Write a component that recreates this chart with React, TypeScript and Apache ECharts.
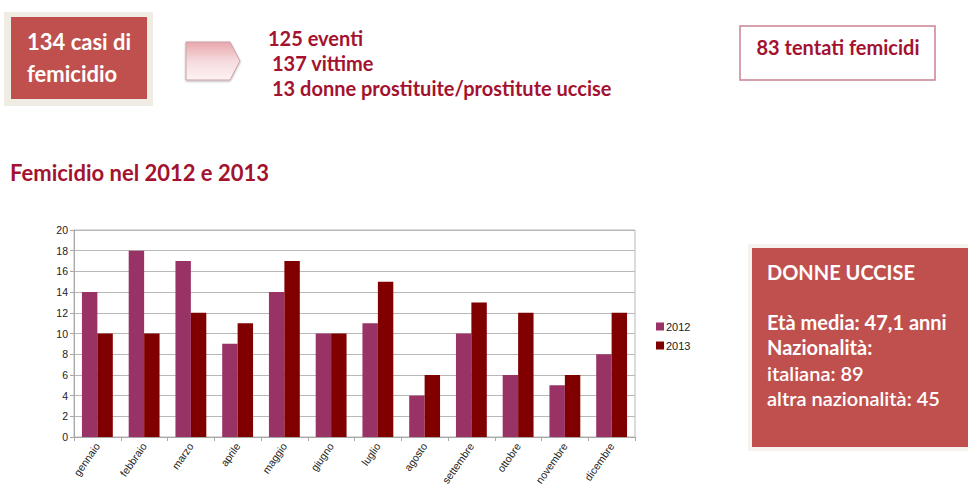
import React, { useEffect, useRef } from "react";
import * as echarts from "echarts";

const months = ["gennaio", "febbraio", "marzo", "aprile", "maggio", "giugno", "luglio", "agosto", "settembre", "ottobre", "novembre", "dicembre"];
const values2012 = [14, 18, 17, 9, 14, 10, 11, 4, 10, 6, 5, 8];
const values2013 = [10, 10, 12, 11, 17, 10, 15, 6, 13, 12, 6, 12];
const seriesNames = ["2012", "2013"];
const infoLines = ["125 eventi", "137 vittime", "13 donne prostituite/prostitute uccise"];
const boxLines = ["Età media: 47,1 anni", "Nazionalità:", "italiana: 89", "altra nazionalità: 45"];

const FONT = "Lato, 'Open Sans', sans-serif";
const AXFONT = "Arial, 'Liberation Sans', sans-serif";
const DARK_RED = "#a3122f";
const BOX_RED = "#c0504d";

export default function App() {
  const ref = useRef<HTMLDivElement>(null);
  useEffect(() => {
    document.body.style.margin = "0";
    const chart = echarts.init(ref.current!, null, { renderer: "svg" });
    const txt = (x: number, y: number, text: string, fill: string, size: number, weight = "bold", align = "left") => ({
      type: "text",
      x,
      y,
      style: { text, fill, font: `${weight} ${size}px ${FONT}`, align, verticalAlign: "middle" },
    });
    chart.setOption({
      animation: false,
      backgroundColor: "#ffffff",
      grid: { left: 74, right: 333, top: 230, bottom: 58, show: true, borderColor: "#b8b8b8", borderWidth: 1 },
      legend: {
        orient: "vertical",
        left: 651,
        top: 316,
        itemWidth: 8,
        itemHeight: 8,
        itemGap: 8,
        icon: "rect",
        textStyle: { fontSize: 11, fontFamily: AXFONT, color: "#222", padding: [0, 0, 0, -3] },
        data: seriesNames,
      },
      xAxis: {
        type: "category",
        data: months,
        axisLine: { lineStyle: { color: "#a8a8a8" } },
        axisTick: { show: true, length: 4, lineStyle: { color: "#a8a8a8" } },
        axisLabel: { rotate: 55, fontSize: 10.5, color: "#222", fontFamily: AXFONT, margin: 7 },
      },
      yAxis: {
        type: "value",
        min: 0,
        max: 20,
        interval: 2,
        axisLine: { show: true, lineStyle: { color: "#a8a8a8" } },
        axisTick: { show: true, length: 4, lineStyle: { color: "#a8a8a8" } },
        axisLabel: { fontSize: 10.5, color: "#222", fontFamily: AXFONT, margin: 6 },
        splitLine: { lineStyle: { color: "#b8b8b8" } },
      },
      series: [
        { name: seriesNames[0], type: "bar", data: values2012, itemStyle: { color: "#993366" }, barGap: "0%", barCategoryGap: "34%" },
        { name: seriesNames[1], type: "bar", data: values2013, itemStyle: { color: "#800000" }, barGap: "0%", barCategoryGap: "34%" },
      ],
      graphic: [
        { type: "rect", shape: { x: 4, y: 12, width: 149, height: 94 }, style: { fill: "#efece4" } },
        { type: "rect", shape: { x: 11, y: 17, width: 136, height: 82 }, style: { fill: BOX_RED } },
        txt(27, 41, "134 casi di", "#fff", 22),
        txt(27, 73, "femicidio", "#fff", 22),
        {
          type: "polygon",
          shape: { points: [[186, 42], [230, 42], [240, 61], [230, 80], [186, 80]] },
          style: {
            fill: new echarts.graphic.LinearGradient(0, 0, 0, 1, [
              { offset: 0, color: "#e8a7ae" },
              { offset: 0.5, color: "#f6dadd" },
              { offset: 1, color: "#fdf3f4" },
            ]),
            stroke: "#c9a0a6",
            lineWidth: 1,
            shadowColor: "rgba(0,0,0,0.3)",
            shadowBlur: 2,
            shadowOffsetY: 1,
          },
        },
        txt(268, 38, infoLines[0], DARK_RED, 20),
        txt(272, 63, infoLines[1], DARK_RED, 20),
        txt(272, 88, infoLines[2], DARK_RED, 20),
        { type: "rect", shape: { x: 740, y: 26, width: 195, height: 54 }, style: { fill: "#fff", stroke: "#c9838f", lineWidth: 1.5 } },
        txt(838, 47, "83 tentati femicidi", DARK_RED, 20, "bold", "center"),
        txt(10, 172, "Femicidio nel 2012 e 2013", DARK_RED, 22),
        { type: "rect", shape: { x: 748, y: 244, width: 220, height: 207 }, style: { fill: "#f6f3ee" } },
        { type: "rect", shape: { x: 752, y: 248, width: 216, height: 199 }, style: { fill: BOX_RED } },
        txt(767, 272, "DONNE UCCISE", "#fff", 20),
        txt(767, 322, boxLines[0], "#fff", 20),
        txt(767, 347, boxLines[1], "#fff", 20),
        txt(767, 373, boxLines[2], "#fff", 20, "600"),
        txt(767, 398, boxLines[3], "#fff", 20, "600"),
      ],
    });
    return () => chart.dispose();
  }, []);
  return <div ref={ref} style={{ position: "absolute", left: 0, top: 0, width: 968, height: 495 }} />;
}
